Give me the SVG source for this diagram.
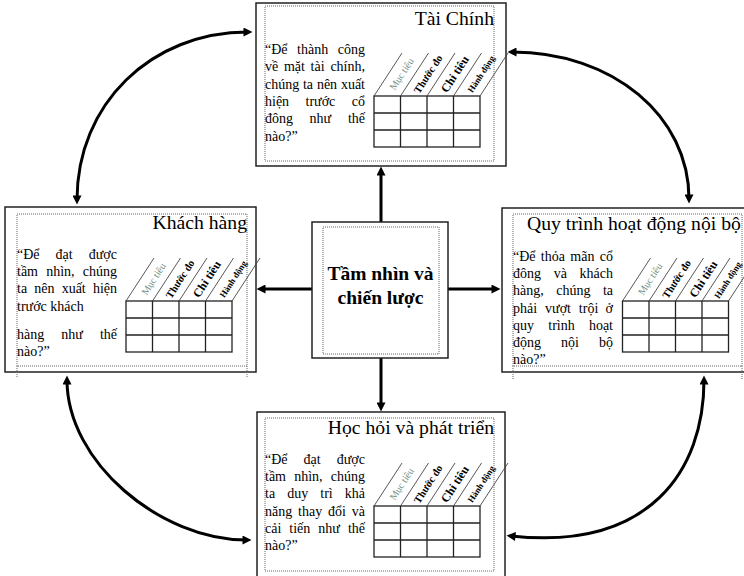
<svg xmlns="http://www.w3.org/2000/svg" width="744" height="576" viewBox="0 0 744 576">
  <defs>
    <style>
      .box { fill: #fff; stroke: #222; stroke-width: 1.5; }
      .frame { fill: none; stroke: #666; stroke-width: 1; stroke-dasharray: 1 1; }
      .title { font-family: "Liberation Serif", "Times New Roman", serif; font-size: 19.7px; fill: #000; text-anchor: end; }
      .q { font-family: "Liberation Serif", "Times New Roman", serif; font-size: 14px; fill: #000; }
      .m { text-anchor: middle; }
      .e { text-anchor: end; }
      .center-text { font-family: "Liberation Serif", "Times New Roman", serif; font-size: 19.5px; font-weight: bold; fill: #000; text-anchor: middle; }
      .grid { fill: none; stroke: #222; stroke-width: 1.3; }
      .slant { stroke: #444; stroke-width: 0.9; }
      .hd { font-family: "Liberation Serif", "Times New Roman", serif; text-anchor: middle; fill: #000; font-weight: bold; }
      .h1 { font-size: 10px; font-weight: normal; fill: #6f8f7f; }
      .h2 { font-size: 10.5px; }
      .h3 { font-size: 12px; }
      .h4 { font-size: 8.8px; }
      .arrow { fill: none; stroke: #000; stroke-width: 3; }
      .ends { marker-start: url(#ah); marker-end: url(#ah); }
      .one { marker-end: url(#ah); }
    </style>
    <marker id="ah" viewBox="0 0 10 10" refX="5" refY="5" markerWidth="10" markerHeight="9" markerUnits="userSpaceOnUse" orient="auto-start-reverse">
      <path d="M0,0 L10,5 L0,10 z" fill="#000"/>
    </marker>
  </defs>

  <rect width="744" height="576" fill="#fff"/>

  <!-- connectors -->
  <g id="connectors">
    <line class="arrow one" x1="381" y1="222" x2="381" y2="171"/>
    <line class="arrow one" x1="381" y1="358" x2="381" y2="407"/>
    <line class="arrow one" x1="312" y1="289" x2="261" y2="289"/>
    <line class="arrow one" x1="448" y1="289" x2="496" y2="289"/>
    <path class="arrow ends" d="M77,200 C77,104 151,32 248,32"/>
    <path class="arrow ends" d="M512,52 C613,52 689,116 689,199"/>
    <path class="arrow ends" d="M67,380 C67,462 160,540 247,540"/>
    <path class="arrow ends" d="M704,380 C704,470 650,551 511,536"/>
  </g>

  <!-- Tài Chính -->
  <g id="tai-chinh">
    <rect class="box" x="256" y="3" width="250" height="163"/>
    <rect class="frame" x="265" y="6" width="229" height="155"/>
    <text class="title" x="494" y="25">Tài Chính</text>
    <text class="q" y="54"><tspan x="265">“Để</tspan><tspan class="m" x="312.6">thành</tspan><tspan class="e" x="365">công</tspan></text>
    <text class="q" y="71.3"><tspan x="265">về</tspan><tspan class="m" x="294.4">mặt</tspan><tspan class="m" x="317.6">tài</tspan><tspan class="e" x="365">chính,</tspan></text>
    <text class="q" y="88.6"><tspan x="265">chúng</tspan><tspan class="m" x="308">ta</tspan><tspan class="m" x="327">nên</tspan><tspan class="e" x="365">xuất</tspan></text>
    <text class="q" y="105.9"><tspan x="265">hiện</tspan><tspan class="m" x="320.4">trước</tspan><tspan class="e" x="365">cổ</tspan></text>
    <text class="q" y="123.2"><tspan x="265">đông</tspan><tspan class="m" x="320.4">như</tspan><tspan class="e" x="365">thế</tspan></text>
    <text class="q" x="265" y="140.5">nào?”</text>
    <g transform="translate(374,96)">
      <rect class="grid" x="0" y="0" width="106" height="51"/>
      <path class="grid" d="M26.5,0V51M53,0V51M79.5,0V51M0,17H106M0,34H106"/>
      <path class="slant" d="M0,0L28,-43M26.5,0L54.5,-43M53,0L81,-43M79.5,0L107.5,-43M106,0L134,-43"/>
      <text class="hd h1" transform="translate(27.6,-22) rotate(-57)" y="3.4">Mục tiêu</text>
      <text class="hd h2" transform="translate(54.1,-22) rotate(-57)" y="3.6">Thước đo</text>
      <text class="hd h3" transform="translate(80.6,-22) rotate(-57)" y="4.2">Chỉ tiêu</text>
      <text class="hd h4" transform="translate(107.1,-22) rotate(-57)" y="3.1">Hành động</text>
    </g>
  </g>

  <!-- Khách hàng -->
  <g id="khach-hang">
    <rect class="box" x="5" y="207" width="251" height="165"/>
    <rect class="frame" x="17" y="214" width="230" height="152"/>
    <path class="frame" d="M17,366V378M247,366V378"/>
    <text class="title" x="247" y="229">Khách hàng</text>
    <text class="q" y="259"><tspan x="17">“Để</tspan><tspan class="m" x="64">đạt</tspan><tspan class="e" x="117">được</tspan></text>
    <text class="q" y="276"><tspan x="17">tầm</tspan><tspan class="m" x="60.4">nhìn,</tspan><tspan class="e" x="117">chúng</tspan></text>
    <text class="q" y="293"><tspan x="17">ta</tspan><tspan class="m" x="44.4">nên</tspan><tspan class="m" x="73.7">xuất</tspan><tspan class="e" x="117">hiện</tspan></text>
    <text class="q" x="17" y="311">trước khách</text>
    <text class="q" y="339"><tspan x="17">hàng</tspan><tspan class="m" x="72">như</tspan><tspan class="e" x="117">thế</tspan></text>
    <text class="q" x="17" y="356">nào?”</text>
    <g transform="translate(126,301)">
      <rect class="grid" x="0" y="0" width="106" height="51"/>
      <path class="grid" d="M26.5,0V51M53,0V51M79.5,0V51M0,17H106M0,34H106"/>
      <path class="slant" d="M0,0L28,-43M26.5,0L54.5,-43M53,0L81,-43M79.5,0L107.5,-43M106,0L134,-43"/>
      <text class="hd h1" transform="translate(27.6,-22) rotate(-57)" y="3.4">Mục tiêu</text>
      <text class="hd h2" transform="translate(54.1,-22) rotate(-57)" y="3.6">Thước đo</text>
      <text class="hd h3" transform="translate(80.6,-22) rotate(-57)" y="4.2">Chỉ tiêu</text>
      <text class="hd h4" transform="translate(107.1,-22) rotate(-57)" y="3.1">Hành động</text>
    </g>
  </g>

  <!-- Quy trình hoạt động nội bộ -->
  <g id="quy-trinh">
    <rect class="box" x="502" y="208" width="252" height="164"/>
    <rect class="frame" x="513" y="214" width="229" height="152"/>
    <path class="frame" d="M513,366V380M742,366V380"/>
    <text class="title" x="527" y="230" style="text-anchor:start">Quy trình hoạt động nội bộ</text>
    <text class="q" y="261"><tspan x="513">“Để</tspan><tspan class="m" x="552.9">thỏa</tspan><tspan class="m" x="582.4">mãn</tspan><tspan class="e" x="613">cổ</tspan></text>
    <text class="q" y="278.2"><tspan x="513">đông</tspan><tspan class="m" x="560.3">và</tspan><tspan class="e" x="613">khách</tspan></text>
    <text class="q" y="295.4"><tspan x="513">hàng,</tspan><tspan class="m" x="573.3">chúng</tspan><tspan class="e" x="613">ta</tspan></text>
    <text class="q" y="312.6"><tspan x="513">phải</tspan><tspan class="m" x="558">vượt</tspan><tspan class="m" x="588.6">trội</tspan><tspan class="e" x="613">ở</tspan></text>
    <text class="q" y="329.8"><tspan x="513">quy</tspan><tspan class="m" x="561.5">trình</tspan><tspan class="e" x="613">hoạt</tspan></text>
    <text class="q" y="347"><tspan x="513">động</tspan><tspan class="m" x="570">nội</tspan><tspan class="e" x="613">bộ</tspan></text>
    <text class="q" x="513" y="364.2">nào?”</text>
    <g transform="translate(622.5,301)">
      <rect class="grid" x="0" y="0" width="106" height="51"/>
      <path class="grid" d="M26.5,0V51M53,0V51M79.5,0V51M0,17H106M0,34H106"/>
      <path class="slant" d="M0,0L28,-43M26.5,0L54.5,-43M53,0L81,-43M79.5,0L107.5,-43M106,0L134,-43"/>
      <text class="hd h1" transform="translate(27.6,-22) rotate(-57)" y="3.4">Mục tiêu</text>
      <text class="hd h2" transform="translate(54.1,-22) rotate(-57)" y="3.6">Thước đo</text>
      <text class="hd h3" transform="translate(80.6,-22) rotate(-57)" y="4.2">Chỉ tiêu</text>
      <text class="hd h4" transform="translate(105.2,-21) rotate(-57)" y="3.1">Hành động</text>
    </g>
  </g>

  <!-- Học hỏi và phát triển -->
  <g id="hoc-hoi">
    <rect class="box" x="257" y="412" width="248" height="170"/>
    <rect class="frame" x="265" y="418" width="229" height="153"/>
    <text class="title" x="494" y="434">Học hỏi và phát triển</text>
    <text class="q" y="464"><tspan x="265">“Để</tspan><tspan class="m" x="312">đạt</tspan><tspan class="e" x="365">được</tspan></text>
    <text class="q" y="481.2"><tspan x="265">tầm</tspan><tspan class="m" x="308.4">nhìn,</tspan><tspan class="e" x="365">chúng</tspan></text>
    <text class="q" y="498.4"><tspan x="265">ta</tspan><tspan class="m" x="297.7">duy</tspan><tspan class="m" x="326.5">trì</tspan><tspan class="e" x="365">khả</tspan></text>
    <text class="q" y="515.6"><tspan x="265">năng</tspan><tspan class="m" x="310.1">thay</tspan><tspan class="m" x="337">đổi</tspan><tspan class="e" x="365">và</tspan></text>
    <text class="q" y="532.8"><tspan x="265">cải</tspan><tspan class="m" x="299.8">tiến</tspan><tspan class="m" x="329.1">như</tspan><tspan class="e" x="365">thế</tspan></text>
    <text class="q" x="265" y="550">nào?”</text>
    <g transform="translate(374,506)">
      <rect class="grid" x="0" y="0" width="106" height="51"/>
      <path class="grid" d="M26.5,0V51M53,0V51M79.5,0V51M0,17H106M0,34H106"/>
      <path class="slant" d="M0,0L28,-43M26.5,0L54.5,-43M53,0L81,-43M79.5,0L107.5,-43M106,0L134,-43"/>
      <text class="hd h1" transform="translate(27.6,-22) rotate(-57)" y="3.4">Mục tiêu</text>
      <text class="hd h2" transform="translate(54.1,-22) rotate(-57)" y="3.6">Thước đo</text>
      <text class="hd h3" transform="translate(80.6,-22) rotate(-57)" y="4.2">Chỉ tiêu</text>
      <text class="hd h4" transform="translate(107.1,-22) rotate(-57)" y="3.1">Hành động</text>
    </g>
  </g>

  <!-- Tầm nhìn và chiến lược -->
  <g id="tam-nhin">
    <rect class="box" x="312" y="222" width="136" height="136"/>
    <rect class="frame" x="323" y="227" width="116" height="127"/>
    <text class="center-text" x="380.5" y="280">Tầm nhìn và</text>
    <text class="center-text" x="380.5" y="304">chiến lược</text>
  </g>
</svg>
